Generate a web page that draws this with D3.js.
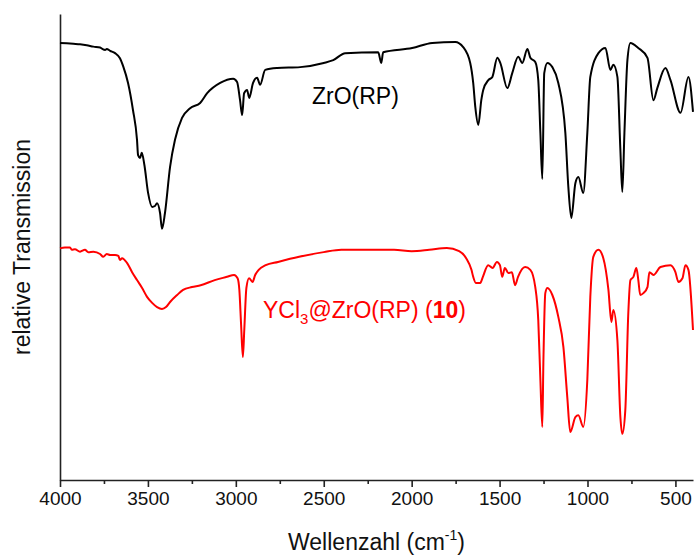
<!DOCTYPE html>
<html>
<head>
<meta charset="utf-8">
<script src="https://cdn.jsdelivr.net/npm/d3@7/dist/d3.min.js"></script>
<style>
  html, body { margin: 0; padding: 0; background: #fff; }
  svg { display: block; font-family: "Liberation Sans", Arial, sans-serif; }
</style>
</head>
<body>
<svg id="chart" width="695" height="556"></svg>
<script>
// IR spectra: wavenumber (cm^-1) and relative transmission (arbitrary units, offset per trace)
const zroWavenumber = [4000,3962,3924,3886,3848,3810,3772,3754,3744,3734,3715,3687,3659,3640,3613,3585,3562,3556,3545,3535,3520,3499,3476,3460,3448,3431,3420,3403,3374,3346,3306,3260,3203,3163,3089,3015,2993,2976,2964,2953,2936,2924,2902,2879,2862,2833,2765,2634,2500,2446,2378,2190,2173,2162,1997,1883,1752,1707,1667,1650,1638,1621,1604,1593,1564,1541,1513,1496,1456,1428,1394,1371,1342,1325,1297,1280,1268,1257,1246,1228,1200,1166,1126,1109,1092,1069,1052,1024,1001,984,938,898,870,853,830,813,802,790,773,756,711,659,625,603,557,528,471,426,400];
const zroTransmission = [93.8,93.7,93.6,93.5,93.3,93.0,92.8,92.4,92.3,92.5,92.1,91.6,90.5,88.7,85.2,79.4,73.0,69.7,69.1,70.2,67.6,61.6,58.6,58.8,59.4,57.3,53.9,57.3,67.2,73.0,77.7,79.8,80.9,83.0,85.2,86.1,85.4,81.5,78.3,83.0,83.7,82.0,85.2,86.3,84.8,88.0,88.4,88.6,89.5,90.1,91.6,91.8,89.5,91.8,92.7,93.8,94.0,92.9,89.5,85.2,80.0,76.2,81.5,83.7,85.8,86.5,90.6,89.5,84.1,87.3,90.8,89.5,92.5,90.6,89.7,85.8,74.5,64.6,87.3,89.5,88.6,85.2,74.5,62.9,56.2,63.7,65.0,61.6,74.5,86.5,91.6,92.7,88.0,89.1,86.5,70.8,61.8,74.5,90.1,93.8,92.7,90.6,81.5,84.1,88.4,85.8,78.8,86.5,79.0];

const yclWavenumber = [4000,3972,3943,3933,3915,3886,3858,3839,3810,3772,3754,3734,3715,3687,3668,3659,3647,3619,3590,3562,3533,3505,3476,3448,3420,3397,3374,3334,3300,3250,3200,3120,3050,3010,2990,2980,2970,2960,2952,2940,2925,2905,2890,2870,2830,2760,2640,2500,2400,2250,2100,2000,1900,1800,1730,1690,1660,1650,1635,1610,1595,1565,1540,1515,1498,1485,1470,1450,1430,1412,1395,1355,1325,1297,1280,1268,1257,1251,1240,1228,1200,1166,1137,1115,1098,1069,1052,1024,1001,984,967,938,910,881,864,853,830,813,802,785,768,756,739,722,711,700,682,659,648,625,585,528,500,483,460,443,426,400];
const yclTransmission = [49.7,49.9,49.9,49.4,49.5,49.0,49.4,48.9,49.0,48.5,47.9,48.5,48.3,48.3,48.1,47.2,47.6,46.6,44.6,42.9,41.2,39.3,38.0,37.1,36.7,37.1,38.2,39.7,40.8,41.4,41.8,42.9,43.6,44.0,43.3,40.8,33.3,26.4,32.2,41.2,43.3,42.5,44.0,45.1,46.1,46.8,47.9,48.9,49.4,49.4,49.4,49.1,49.4,49.8,49.1,47.6,45.1,43.6,42.3,42.3,43.6,46.1,45.5,46.8,46.1,43.6,45.5,44.4,44.6,41.8,43.6,45.7,45.1,41.4,34.3,21.5,11.4,25.1,40.1,41.2,39.7,35.0,28.5,17.8,10.3,13.5,13.9,11.4,21.5,39.3,47.9,49.4,47.6,40.8,33.9,36.5,30.0,13.5,9.9,15.0,35.8,42.9,43.6,45.5,42.9,39.7,40.1,41.4,44.6,44.0,45.7,46.1,44.6,42.5,43.3,46.1,45.1,32.2];

const majorTicks = [4000,3500,3000,2500,2000,1500,1000,500];
const minorTicks = [3750,3250,2750,2250,1750,1250,750];

const svg = d3.select("#chart");
const margin = { left: 60, right: 2, top: 14, bottom: 76 };
const W = 695, H = 556;

const x = d3.scaleLinear().domain([4000, 400]).range([margin.left, W - margin.right]);
const y = d3.scaleLinear().domain([0, 100]).range([H - margin.bottom, margin.top]);

const fontFamily = '"Liberation Sans", Arial, sans-serif';

// x axis with major labelled ticks
const xAxis = svg.append("g")
  .attr("transform", `translate(0,${y(0)})`)
  .call(d3.axisBottom(x).tickValues(majorTicks).tickSize(7).tickSizeOuter(0).tickPadding(5).tickFormat(d3.format("d")));
xAxis.select(".domain").attr("stroke", "#222").attr("stroke-width", 1.6);
xAxis.selectAll(".tick line").attr("stroke", "#222").attr("stroke-width", 1.6);
xAxis.selectAll(".tick text").attr("font-size", 19).attr("font-family", fontFamily).attr("fill", "#111");

// minor ticks
svg.append("g")
  .attr("transform", `translate(0,${y(0)})`)
  .call(d3.axisBottom(x).tickValues(minorTicks).tickSize(4).tickSizeOuter(0).tickFormat(""))
  .call(g => g.select(".domain").remove())
  .selectAll(".tick line").attr("stroke", "#222").attr("stroke-width", 1.6);

// y axis: plain line, no ticks
const yAxis = svg.append("g")
  .attr("transform", `translate(${x(4000)},0)`)
  .call(d3.axisLeft(y).tickValues([]).tickSizeOuter(0));
yAxis.select(".domain").attr("stroke", "#222").attr("stroke-width", 1.6);

// spectra
const line = d3.line()
  .x(d => x(d[0]))
  .y(d => y(d[1]))
  .curve(d3.curveMonotoneX);

const zroData = d3.zip(zroWavenumber, zroTransmission);
const yclData = d3.zip(yclWavenumber, yclTransmission);

svg.append("path").datum(zroData)
  .attr("fill", "none").attr("stroke", "#000").attr("stroke-width", 2)
  .attr("stroke-linejoin", "round").attr("d", line);

svg.append("path").datum(yclData)
  .attr("fill", "none").attr("stroke", "#ff0000").attr("stroke-width", 2)
  .attr("stroke-linejoin", "round").attr("d", line);

// trace labels
svg.append("text")
  .attr("x", 312).attr("y", 104)
  .attr("font-size", 23).attr("font-family", fontFamily).attr("fill", "#000")
  .text("ZrO(RP)");

const redLabel = svg.append("text")
  .attr("x", 263).attr("y", 318)
  .attr("font-size", 23).attr("font-family", fontFamily).attr("fill", "#ff0000");
redLabel.append("tspan").text("YCl");
redLabel.append("tspan").attr("font-size", 15).attr("dy", 6).text("3");
redLabel.append("tspan").attr("dy", -6).text("@ZrO(RP) (");
redLabel.append("tspan").attr("font-weight", "bold").text("10");
redLabel.append("tspan").text(")");

// axis titles
const xTitle = svg.append("text")
  .attr("x", (x(4000) + x(400)) / 2).attr("y", 550)
  .attr("text-anchor", "middle")
  .attr("font-size", 23).attr("font-family", fontFamily).attr("fill", "#111");
xTitle.append("tspan").text("Wellenzahl (cm");
xTitle.append("tspan").attr("font-size", 14).attr("dy", -10).text("-1");
xTitle.append("tspan").attr("dy", 10).text(")");

svg.append("text")
  .attr("transform", `translate(30,${(y(0) + y(100)) / 2}) rotate(-90)`)
  .attr("text-anchor", "middle")
  .attr("font-size", 23).attr("font-family", fontFamily).attr("fill", "#111")
  .text("relative Transmission");
</script>
</body>
</html>
